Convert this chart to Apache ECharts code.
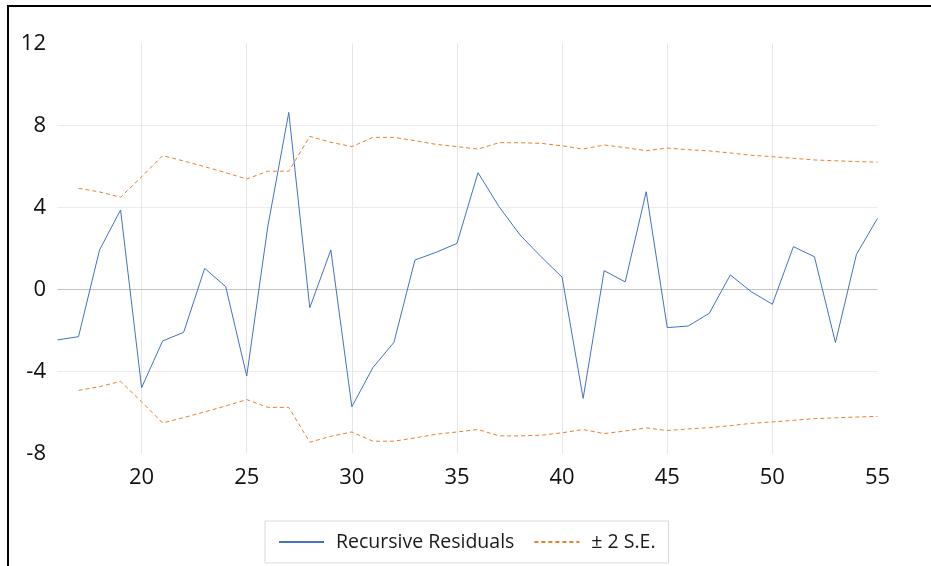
<!DOCTYPE html>
<html>
<head>
<meta charset="utf-8">
<script src="https://cdn.jsdelivr.net/npm/echarts@6/dist/echarts.min.js"></script>
<style>
html,body{margin:0;padding:0;background:#fff;}
#chart{position:absolute;left:0;top:0;width:931px;height:566px;}
</style>
</head>
<body>
<div id="chart"></div>
<script>
const categories = [16,17,18,19,20,21,22,23,24,25,26,27,28,29,30,31,32,33,34,35,36,37,38,39,40,41,42,43,44,45,46,47,48,49,50,51,52,53,54,55];
const residuals = [-2.47,-2.31,1.92,3.87,-4.80,-2.52,-2.10,1.02,0.13,-4.23,3.05,8.63,-0.90,1.92,-5.73,-3.82,-2.59,1.43,1.80,2.24,5.69,4.03,2.65,1.59,0.59,-5.32,0.91,0.36,4.76,-1.87,-1.79,-1.17,0.70,-0.12,-0.73,2.08,1.59,-2.60,1.71,3.46];
const upperSE = [null,4.93,4.75,4.49,5.49,6.52,6.26,5.98,5.69,5.38,5.76,5.76,7.46,7.17,6.96,7.41,7.41,7.25,7.07,6.96,6.84,7.15,7.15,7.12,7.00,6.84,7.04,6.91,6.76,6.89,6.81,6.75,6.65,6.54,6.47,6.39,6.31,6.27,6.23,6.20];
const lowerSE = [null,-4.93,-4.75,-4.49,-5.49,-6.52,-6.26,-5.98,-5.69,-5.38,-5.76,-5.76,-7.46,-7.17,-6.96,-7.41,-7.41,-7.25,-7.07,-6.96,-6.84,-7.15,-7.15,-7.12,-7.00,-6.84,-7.04,-6.91,-6.76,-6.89,-6.81,-6.75,-6.65,-6.54,-6.47,-6.39,-6.31,-6.27,-6.23,-6.20];
const xTickStep = 5;
const yTicks = {min:-8, max:12, interval:4};
const legendNames = ['Recursive Residuals', '\u00B1 2 S.E.'];

const FONT = '"Open Sans", "Noto Sans", sans-serif';
const chart = echarts.init(document.getElementById('chart'), null, {renderer:'canvas'});
chart.setOption({
  animation:false,
  backgroundColor:'#ffffff',
  graphic:[{
    type:'polyline',
    silent:true,
    shape:{points:[[8,566],[8,6],[931,6]]},
    style:{stroke:'#000',lineWidth:2,fill:null}
  }],
  grid:{left:57.5, right:53.5, top:43.3, bottom:112.7, containLabel:false},
  legend:{
    data:[legendNames[0], legendNames[1]],
    left:265, top:521,
    padding:[11,13,11,13],
    borderColor:'#d9d9d9', borderWidth:1,
    itemWidth:45, itemHeight:14, itemGap:19,
    itemStyle:{opacity:0},
    textStyle:{fontFamily:FONT, fontSize:19.5, color:'#1a1a1a', padding:[0,0,0,7]}
  },
  xAxis:{
    type:'category',
    data:categories,
    boundaryGap:false,
    axisLine:{show:false},
    axisTick:{show:false},
    axisLabel:{
      interval:function(i,v){return Number(v)%xTickStep===0;},
      margin:13,
      fontFamily:FONT, fontSize:22, color:'#111'
    },
    splitLine:{
      show:true,
      interval:function(i,v){return Number(v)%xTickStep===0 && i<categories.length-1;},
      lineStyle:{color:'#e6e6e6',width:1}
    }
  },
  yAxis:{
    type:'value',
    min:yTicks.min, max:yTicks.max, interval:yTicks.interval,
    axisLine:{show:false},
    axisTick:{show:false},
    axisLabel:{margin:11.5, fontFamily:FONT, fontSize:22, color:'#111', padding:[0,0,6,0]},
    splitLine:{show:true, showMinLine:false, showMaxLine:false, lineStyle:{color:'#ececec',width:1}}
  },
  series:[
    {
      name:legendNames[0], type:'line', data:residuals,
      symbol:'none', showSymbol:false,
      lineStyle:{color:'#4472C4', width:1},
      itemStyle:{color:'#4472C4'},
      z:3,
      markLine:{
        silent:true, symbol:'none', label:{show:false},
        lineStyle:{color:'#c4c4c4', type:'solid', width:1},
        data:[{yAxis:0}],
        z:1
      }
    },
    {
      name:legendNames[1], type:'line', data:upperSE,
      symbol:'none', showSymbol:false,
      lineStyle:{color:'#ED7D31', width:1, type:[4,3]},
      itemStyle:{color:'#ED7D31'},
      z:2
    },
    {
      name:legendNames[1], type:'line', data:lowerSE,
      symbol:'none', showSymbol:false,
      lineStyle:{color:'#ED7D31', width:1, type:[4,3]},
      itemStyle:{color:'#ED7D31'},
      z:2
    }
  ]
});
</script>
</body>
</html>
